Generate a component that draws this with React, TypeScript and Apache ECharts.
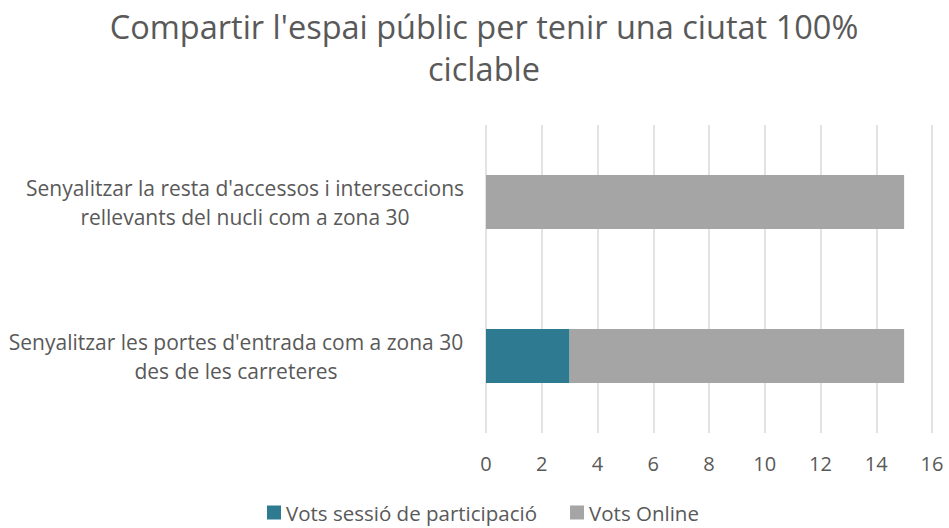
import React, { useEffect, useRef } from "react";
import * as echarts from "echarts";

const titleText = "Compartir l'espai públic per tenir una ciutat 100%\nciclable";
const categories = [
  "Senyalitzar les portes d'entrada com a zona 30\ndes de les carreteres",
  "Senyalitzar la resta d'accessos i interseccions\nrellevants del nucli com a zona 30",
];
const seriesNames = ["Vots sessió de participació", "Vots Online"];
const sessionVotes = [3, 0];
const onlineVotes = [12, 15];
const colors = ["#2E7A91", "#A5A5A5"];
const FONT = "'Open Sans', sans-serif";
const TXT = "#595959";

export default function App() {
  const ref = useRef<HTMLDivElement>(null);
  useEffect(() => {
    if (!ref.current) return;
    const chart = echarts.init(ref.current, null, { renderer: "svg" });
    const labelStyle = { color: TXT, fontSize: 21, fontFamily: FONT, align: "center", lineHeight: 29 };
    chart.setOption({
      animation: false,
      textStyle: { fontFamily: FONT },
      title: {
        text: titleText,
        left: 479,
        textAlign: "center",
        top: 0,
        textStyle: { fontFamily: FONT, fontSize: 32.5, fontWeight: "normal", color: TXT, lineHeight: 42 },
      },
      legend: {
        bottom: 0,
        left: 262,
        itemWidth: 14,
        itemHeight: 14,
        itemGap: 33,
        icon: "rect",
        textStyle: { fontFamily: FONT, fontSize: 20.5, color: TXT },
        data: seriesNames,
      },
      grid: { left: 486, right: 17, top: 125, bottom: 95 },
      xAxis: {
        type: "value",
        min: 0,
        max: 16,
        interval: 2,
        axisLine: { show: false },
        axisTick: { show: false },
        splitLine: { lineStyle: { color: "#D9D9D9", width: 1.5 } },
        axisLabel: { color: TXT, fontSize: 20, fontFamily: FONT, margin: 20 },
      },
      yAxis: {
        type: "category",
        data: categories,
        axisLine: { show: false },
        axisTick: { show: false },
        axisLabel: {
          color: TXT,
          fontSize: 21,
          fontFamily: FONT,
          align: "right",
          margin: 23,
          lineHeight: 29,
          formatter: (v: string, i: number) => {
            const k = i === 0 ? "a" : "b";
            return v
              .split("\n")
              .map((l) => `{${k}|${l}}`)
              .join("\n");
          },
          rich: {
            a: { ...labelStyle, width: 454 },
            b: { ...labelStyle, width: 436 },
          },
        },
      },
      series: [
        {
          name: seriesNames[0],
          type: "bar",
          stack: "total",
          data: sessionVotes,
          barWidth: 54,
          itemStyle: { color: colors[0] },
        },
        {
          name: seriesNames[1],
          type: "bar",
          stack: "total",
          data: onlineVotes,
          barWidth: 54,
          itemStyle: { color: colors[1] },
        },
      ],
    });
    return () => chart.dispose();
  }, []);
  return <div ref={ref} style={{ width: 949, height: 528, position: "absolute", left: 0, top: 0 }} />;
}
